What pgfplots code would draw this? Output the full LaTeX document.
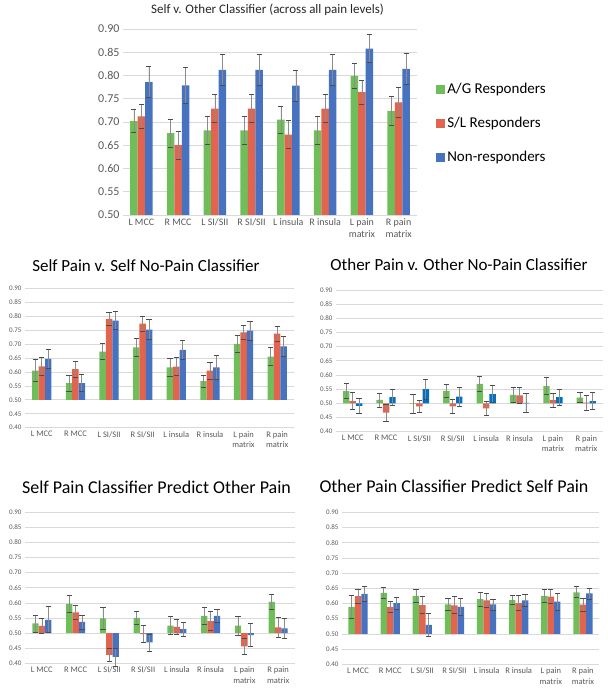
\documentclass[border=0pt]{standalone}
\usepackage{fontspec}
\setmainfont{Carlito}
\usepackage{pgfplots}
\usepackage{pgfplotstable}
\pgfplotsset{compat=1.18}

\definecolor{cg}{RGB}{112,190,90}
\definecolor{cr}{RGB}{226,99,78}
\definecolor{cb}{RGB}{70,114,192}
\definecolor{cbb}{RGB}{0,112,192}
\definecolor{gridc}{RGB}{217,217,217}
\definecolor{labc}{RGB}{89,89,89}

\pgfplotstableread{
x g ge r re b be
0 0.702 0.025 0.712 0.025 0.786 0.034
1 0.676 0.030 0.650 0.030 0.779 0.038
2 0.682 0.030 0.729 0.030 0.812 0.033
3 0.682 0.030 0.729 0.030 0.812 0.033
4 0.705 0.029 0.673 0.030 0.778 0.034
5 0.682 0.030 0.729 0.030 0.812 0.033
6 0.799 0.027 0.764 0.026 0.858 0.030
7 0.724 0.032 0.742 0.032 0.814 0.033
}\tabSO

\pgfplotstableread{
x g ge r re b be
0 0.605 0.040 0.620 0.034 0.647 0.034
1 0.560 0.028 0.610 0.029 0.560 0.030
2 0.673 0.028 0.790 0.024 0.784 0.032
3 0.688 0.032 0.773 0.026 0.752 0.035
4 0.616 0.033 0.619 0.032 0.679 0.034
5 0.567 0.022 0.605 0.031 0.616 0.043
6 0.701 0.029 0.742 0.025 0.748 0.034
7 0.655 0.033 0.737 0.028 0.692 0.035
}\tabSP

\pgfplotstableread{
x g ge r re b be
0 0.543 0.026 0.508 0.030 0.491 0.028
1 0.512 0.025 0.467 0.029 0.522 0.028
2 0.498 0.035 0.489 0.020 0.550 0.035
3 0.544 0.024 0.489 0.026 0.524 0.033
4 0.569 0.026 0.482 0.025 0.533 0.030
5 0.530 0.027 0.528 0.027 0.502 0.035
6 0.561 0.030 0.511 0.024 0.522 0.028
7 0.520 0.018 0.503 0.027 0.508 0.030
}\tabOP

\pgfplotstableread{
x g ge r re b be
0 0.532 0.028 0.524 0.024 0.544 0.043
1 0.597 0.028 0.569 0.023 0.537 0.023
2 0.549 0.036 0.428 0.022 0.421 0.030
3 0.550 0.021 0.497 0.028 0.469 0.028
4 0.525 0.030 0.521 0.025 0.513 0.023
5 0.557 0.027 0.540 0.031 0.557 0.021
6 0.525 0.031 0.456 0.026 0.493 0.038
7 0.603 0.026 0.519 0.032 0.516 0.033
}\tabSPO

\pgfplotstableread{
x g ge r re b be
0 0.589 0.038 0.624 0.024 0.632 0.024
1 0.635 0.019 0.589 0.017 0.601 0.020
2 0.625 0.021 0.595 0.027 0.530 0.038
3 0.597 0.019 0.594 0.028 0.589 0.028
4 0.614 0.024 0.610 0.023 0.597 0.018
5 0.611 0.015 0.601 0.025 0.610 0.020
6 0.625 0.022 0.623 0.024 0.606 0.028
7 0.637 0.018 0.596 0.022 0.633 0.018
}\tabOPS

\pgfplotsset{
  panel/.style={
    scale only axis, anchor=south west,
    ybar=0pt,
    xmin=-0.5, xmax=7.5,
    xtick={0,1,2,3,4,5,6,7},
    xticklabels={L MCC, R MCC, L SI/SII, R SI/SII, L insula, R insula, {L pain\\matrix}, {R pain\\matrix}},
    xticklabel style={align=center, text=labc},
    y coord trafo/.code={\pgfmathparse{##1-0.5}},
    y coord inv trafo/.code={\pgfmathparse{##1+0.5}},
    ymajorgrids, grid style={draw=gridc, line width=0.7bp},
    axis line style={draw=none},
    major tick length=0pt,
    tick style={draw=none},
    yticklabel style={text=labc},
    clip=false,
  },
  small panel/.style={
    panel,
    ymin=0.4, ymax=0.9,
    ytick={0.40,0.45,0.50,0.55,0.60,0.65,0.70,0.75,0.80,0.85,0.90},
    yticklabels={0.40,0.45,0.50,0.55,0.60,0.65,0.70,0.75,0.80,0.85,0.90},
    bar width=6.4bp,
    yticklabel style={font=\fontsize{7bp}{8bp}\selectfont},
    xticklabel style={font=\fontsize{8.5bp}{10.5bp}\selectfont},
  },
  errs/.style={
    error bars/.cd, y dir=both, y explicit,
    error bar style={draw=black!45, line width=0.7bp},
    error mark options={draw=black!70, line width=0.7bp, mark size=2.6bp, rotate=90},
  },
}

\begin{document}
\begin{tikzpicture}
\path[use as bounding box] (0,0) rectangle (608bp,693bp);

% ---------- Top panel ----------
\begin{axis}[panel,
  at={(123bp,478bp)}, width=294bp, height=186bp,
  ymin=0.5, ymax=0.9,
  ytick={0.50,0.55,0.60,0.65,0.70,0.75,0.80,0.85,0.90},
  yticklabels={0.50,0.55,0.60,0.65,0.70,0.75,0.80,0.85,0.90},
  bar width=7.5bp,
  yticklabel style={font=\fontsize{12bp}{14bp}\selectfont},
  xticklabel style={font=\fontsize{10bp}{12bp}\selectfont},
  legend style={at={(1.065,0.72)}, anchor=north west, draw=none, fill=none,
    font=\fontsize{15bp}{18bp}\selectfont, row sep=18bp, inner sep=0pt,
    cells={anchor=west}},
  legend image code/.code={\fill[#1] (0bp,-4.5bp) rectangle (9bp,4.5bp);},
]
\addplot[fill=cg, draw=none, errs] table[x=x, y=g, y error=ge] {\tabSO};
\addplot[fill=cr, draw=none, errs] table[x=x, y=r, y error=re] {\tabSO};
\addplot[fill=cb, draw=none, errs] table[x=x, y=b, y error=be] {\tabSO};
\legend{A/G Responders, S/L Responders, Non-responders}
\end{axis}

% ---------- Middle left ----------
\begin{axis}[small panel,
  at={(25bp,265.3bp)}, width=269bp, height=139.4bp]
\addplot[fill=cg, draw=none, errs] table[x=x, y=g, y error=ge] {\tabSP};
\addplot[fill=cr, draw=none, errs] table[x=x, y=r, y error=re] {\tabSP};
\addplot[fill=cb, draw=none, errs] table[x=x, y=b, y error=be] {\tabSP};
\end{axis}

% ---------- Middle right ----------
\begin{axis}[small panel,
  at={(336bp,261.3bp)}, width=267bp, height=141.7bp]
\addplot[fill=cg, draw=none, errs] table[x=x, y=g, y error=ge] {\tabOP};
\addplot[fill=cr, draw=none, errs] table[x=x, y=r, y error=re] {\tabOP};
\addplot[fill=cbb, draw=none, errs] table[x=x, y=b, y error=be] {\tabOP};
\end{axis}

% ---------- Bottom left ----------
\begin{axis}[small panel,
  at={(25bp,29.7bp)}, width=270bp, height=151bp]
\addplot[fill=cg, draw=none, errs] table[x=x, y=g, y error=ge] {\tabSPO};
\addplot[fill=cr, draw=none, errs] table[x=x, y=r, y error=re] {\tabSPO};
\addplot[fill=cb, draw=none, errs] table[x=x, y=b, y error=be] {\tabSPO};
\end{axis}

% ---------- Bottom right ----------
\begin{axis}[small panel,
  at={(342bp,28.7bp)}, width=257bp, height=152bp]
\addplot[fill=cg, draw=none, errs] table[x=x, y=g, y error=ge] {\tabOPS};
\addplot[fill=cr, draw=none, errs] table[x=x, y=r, y error=re] {\tabOPS};
\addplot[fill=cb, draw=none, errs] table[x=x, y=b, y error=be] {\tabOPS};
\end{axis}

% ---------- Titles ----------
\node[anchor=base, font=\fontsize{13bp}{15bp}\selectfont, text=black!85] at (267.5bp,679bp) {Self v. Other Classifier (across all pain levels)};
\node[anchor=base, font=\fontsize{17bp}{20bp}\selectfont] at (146bp,421.3bp) {Self Pain v. Self No-Pain Classifier};
\node[anchor=base, font=\fontsize{17bp}{20bp}\selectfont] at (459bp,422.3bp) {Other Pain v. Other No-Pain Classifier};
\node[anchor=base, font=\fontsize{18bp}{21bp}\selectfont] at (156.5bp,199.7bp) {Self Pain Classifier Predict Other Pain};
\node[anchor=base, font=\fontsize{18bp}{21bp}\selectfont] at (454bp,200.3bp) {Other Pain Classifier Predict Self Pain};
\end{tikzpicture}
\end{document}
